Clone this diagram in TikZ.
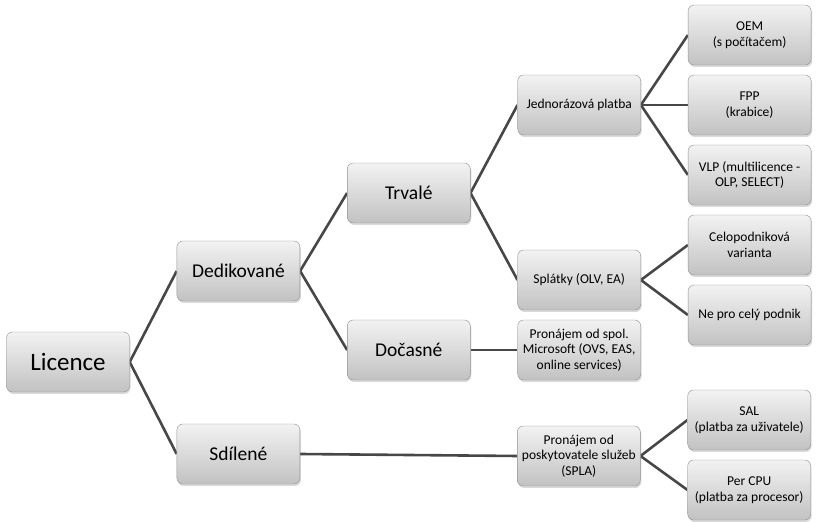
\documentclass[tikz,border=0pt]{standalone}
\usepackage{fontspec}
\setmainfont{Carlito}
\usetikzlibrary{positioning,shadows,backgrounds}

\begin{document}
\begin{tikzpicture}[x=1pt, y=1pt,
        block/.style={rectangle, draw=gray!85, rounded corners=6pt,
                      top color=gray!10, bottom color=gray!48,
                      minimum width=123pt, minimum height=60pt, align=center,
                      font=\fontsize{13.5}{15.5}\selectfont,
                      drop shadow={shadow xshift=1pt, shadow yshift=-2pt, opacity=0.3}},
        midblock/.style={block, font=\fontsize{19.5}{22}\selectfont},
        rootblock/.style={block, font=\fontsize{25}{28}\selectfont},
        line/.style={draw, line width=2.6pt, black!72},
        node distance=47pt
    ]
    \useasboundingbox (0,0) rectangle (831,522);

    \node [rootblock] (licence) at (68,160) {Licence};
    \node [midblock, right=of licence, yshift=91pt] (dedik) {Dedikované};
    \node [midblock, right=of licence, yshift=-92pt] (sdilene) {Sdílené};
    \node [midblock, right=of dedik, yshift=78pt] (trvale) {Trvalé};
    \node [midblock, right=of dedik, yshift=-79pt] (docasne) {Dočasné};

    \node [block, right=of trvale, yshift=88pt] (jednoraz) {Jednorázová platba};
    \node [block, right=of trvale, yshift=-87pt] (splatky) {Splátky (OLV, EA)};
    \node [block, right=of docasne] (pronajemms) {Pronájem od spol.\\Microsoft (OVS, EAS,\\online services)};
    \node [block, right=217pt of sdilene, yshift=-2pt] (spla) {Pronájem od\\poskytovatele služeb\\(SPLA)};

    \node [block, right=of jednoraz, yshift=70pt] (oem) {OEM\\(s počítačem)};
    \node [block, right=of jednoraz] (fpp) {FPP\\(krabice)};
    \node [block, right=of jednoraz, yshift=-70pt] (vlp) {VLP (multilicence -\\OLP, SELECT)};
    \node [block, right=of splatky, yshift=35pt] (celo) {Celopodniková\\varianta};
    \node [block, right=of splatky, yshift=-35pt] (necely) {Ne pro celý podnik};
    \node [block, right=of spla, yshift=36pt] (sal) {SAL\\(platba za uživatele)};
    \node [block, right=of spla, yshift=-34pt] (percpu) {Per CPU\\(platba za procesor)};

    % Connectors
    \begin{scope}[on background layer]
        \draw [line] (licence.east) -- (dedik.west);
        \draw [line] (licence.east) -- (sdilene.west);
        \draw [line] (dedik.east) -- (trvale.west);
        \draw [line] (dedik.east) -- (docasne.west);
        \draw [line] (trvale.east) -- (jednoraz.west);
        \draw [line] (trvale.east) -- (splatky.west);
        \draw [line] (docasne.east) -- (pronajemms.west);
        \draw [line] (sdilene.east) -- (spla.west);
        \draw [line] (jednoraz.east) -- (oem.west);
        \draw [line] (jednoraz.east) -- (fpp.west);
        \draw [line] (jednoraz.east) -- (vlp.west);
        \draw [line] (splatky.east) -- (celo.west);
        \draw [line] (splatky.east) -- (necely.west);
        \draw [line] (spla.east) -- (sal.west);
        \draw [line] (spla.east) -- (percpu.west);
    \end{scope}
\end{tikzpicture}
\end{document}
